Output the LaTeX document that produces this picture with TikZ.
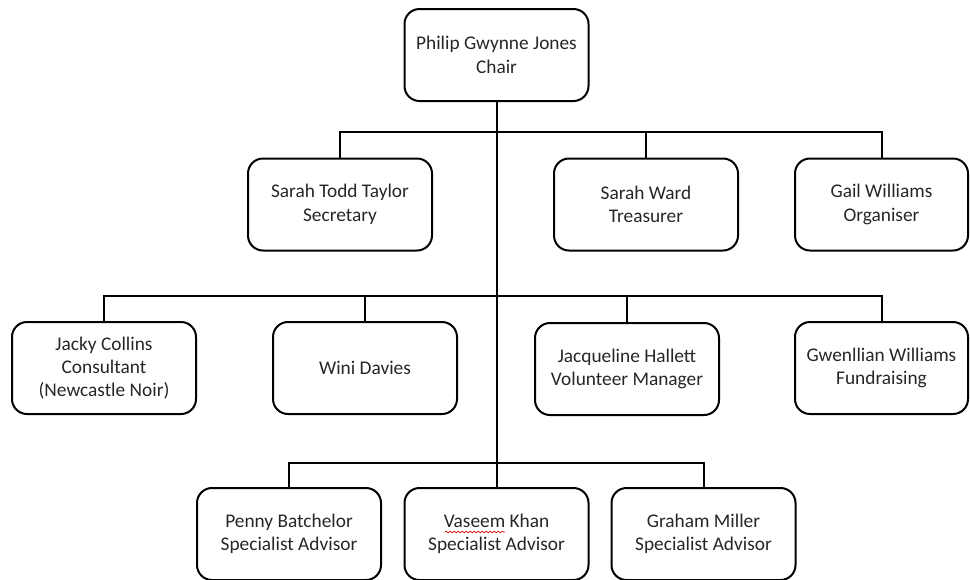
\documentclass[tikz,border=0pt]{standalone}
\usepackage{fontspec}
\setmainfont{Carlito}
\usepackage{tikz}
\usetikzlibrary{decorations.pathmorphing}
\tikzstyle{Box}=[draw=black,line width=1.2pt,rounded corners=9pt,
minimum width=110.4pt,minimum height=55.2pt,align=center,inner sep=2pt,
text=black!85,font=\fontsize{11.6}{14}\selectfont]
\tikzstyle{Edge}=[draw=black,line width=1.2pt]
\tikzstyle{Wavy}=[draw=red!80!black,line width=0.4pt,decorate,
decoration={snake,amplitude=0.5pt,segment length=2.4pt}]

\begin{document}
\begin{tikzpicture}[x=0.6pt,y=-0.6pt]
        \useasboundingbox(0,0)rectangle(970,579);
        % first rank
        \node[Box](chair)at(496.5,55){Philip Gwynne Jones\\Chair};
        % second rank
        \node[Box](secr)at(340,204.5){Sarah Todd Taylor\\Secretary};
        \node[Box](treas)at(646,204.5){Sarah Ward\\Treasurer};
        \node[Box,minimum width=103.8pt](org)at(881.5,204.5)
            {Gail Williams\\Organiser};
        % third rank
        \node[Box](cons)at(104,368)
            {Jacky Collins\\Consultant\\(Newcastle Noir)};
        \node[Box](wini)at(365,368){Wini Davies};
        \node[Box](vol)at(627,369){Jacqueline Hallett\\Volunteer Manager};
        \node[Box,minimum width=103.8pt](fund)at(881.5,368)
            {Gwenllian Williams\\Fundraising};
        % fourth rank
        \node[Box](adv1)at(289,534){Penny Batchelor\\Specialist Advisor};
        \node[Box](adv2)at(496.5,534){Vaseem Khan\\Specialist Advisor};
        \node[Box](adv3)at(703.5,534){Graham Miller\\Specialist Advisor};
        \draw[Wavy](445,532)--(505,532);
        % buses
        \coordinate(b2)at(496.5,132);
        \coordinate(b3)at(496.5,296);
        \draw[Edge](chair)--(adv2);
        \draw[Edge](secr.north)|-(b2)-|(org.north);
        \draw[Edge](treas.north)--(treas.north|-b2);
        \draw[Edge](cons.north)|-(b3)-|(fund.north);
        \draw[Edge](wini.north)--(wini.north|-b3);
        \draw[Edge](vol.north)--(vol.north|-b3);
        \draw[Edge](adv1.north)|-(adv2.north|-0,463)-|(adv3.north);
    \end{tikzpicture}
\end{document}
